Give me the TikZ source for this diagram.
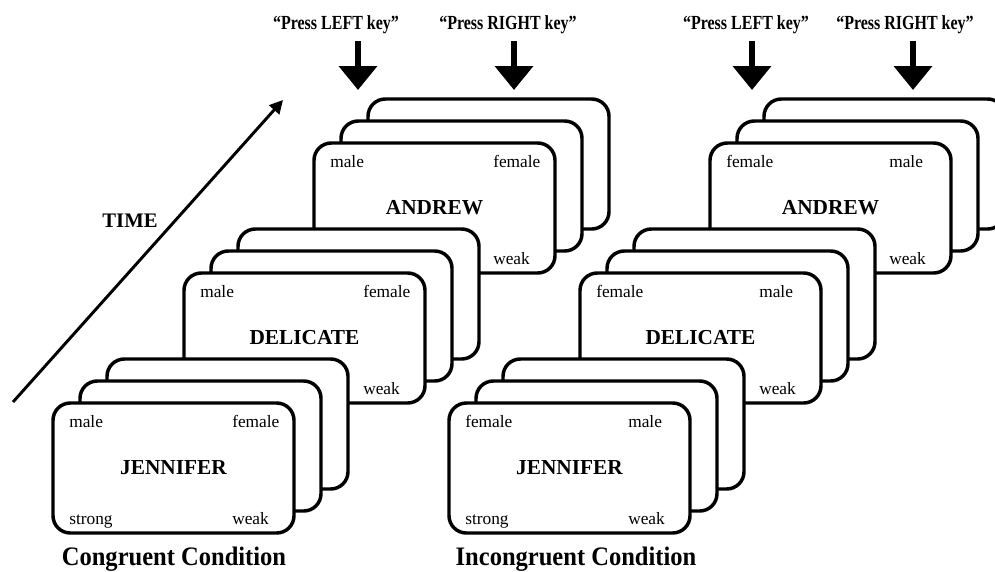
\documentclass[tikz,border=0pt]{standalone}
\usepackage{fontspec}
\setmainfont{Liberation Serif}
\usetikzlibrary{arrows.meta}

\begin{document}
\begin{tikzpicture}[x=0.75pt, y=-0.75pt,
  card/.style={draw=black, fill=white, line width=2.6pt, rounded corners=13pt,
    minimum width=180.75pt, minimum height=97.5pt, inner sep=0pt, outer sep=0pt},
  lbl/.style={font=\fontsize{13}{15}\selectfont, inner sep=0pt, anchor=base west},
  word/.style={font=\fontsize{16}{19}\selectfont\bfseries, inner sep=0pt},
  keytext/.style={font=\fontsize{15}{18}\selectfont\bfseries\addfontfeature{FakeStretch=0.8},
    inner sep=0pt, anchor=base},
  keyarrow/.style={line width=4.5pt, -{Triangle[width=28pt, length=18pt]}},
  timearrow/.style={line width=2.2pt, -{Triangle[width=10pt, length=10pt]}},
  caption/.style={font=\fontsize{20}{24}\selectfont\bfseries\addfontfeature{FakeStretch=0.92},
    inner sep=0pt, anchor=base}]
\useasboundingbox (0,0) rectangle (995,571);
\clip (0,0) rectangle (995,571);

\coordinate (time-start) at (13,402);
\coordinate (time-end) at (283,100);
\draw [timearrow] (time-start) -- (time-end);
\node [word, anchor=base, font=\fontsize{15.5}{18}\selectfont\bfseries] (time) at (130,227) {TIME};

\node [keytext] (cong-left-key) at (336,29) {“Press LEFT key”};
\node [keytext] (cong-right-key) at (508,29) {“Press RIGHT key”};
\node [keytext] (inc-left-key) at (746,29) {“Press LEFT key”};
\node [keytext] (inc-right-key) at (905,29) {“Press RIGHT key”};
\coordinate (cong-left-top) at (358,41);
\coordinate (cong-left-tip) at (358,90);
\coordinate (cong-right-top) at (514,41);
\coordinate (cong-right-tip) at (514,90);
\coordinate (inc-left-top) at (752,41);
\coordinate (inc-left-tip) at (752,90);
\coordinate (inc-right-top) at (913,41);
\coordinate (inc-right-tip) at (913,90);
\draw [keyarrow] (cong-left-top) -- (cong-left-tip);
\draw [keyarrow] (cong-right-top) -- (cong-right-tip);
\draw [keyarrow] (inc-left-top) -- (inc-left-tip);
\draw [keyarrow] (inc-right-top) -- (inc-right-tip);

\node [card] (cong-a-back) at (488.5,164) {};
\node [card] (cong-a-mid) at (461.5,186) {};
\node [card] (cong-a) at (434.5,208) {};
\node [lbl] (cong-a-tl) at ([shift={(16,24)}]cong-a.north west) {male};
\node [lbl] (cong-a-tr) at ([shift={(179,24)}]cong-a.north west) {female};
\node [lbl] (cong-a-br) at ([shift={(179,-9)}]cong-a.south west) {weak};
\node [word] (cong-a-word) at (cong-a.center) {ANDREW};

\node [card] (cong-d-back) at (358.5,294) {};
\node [card] (cong-d-mid) at (331.5,316) {};
\node [card] (cong-d) at (304.5,338) {};
\node [lbl] (cong-d-tl) at ([shift={(16,24)}]cong-d.north west) {male};
\node [lbl] (cong-d-tr) at ([shift={(179,24)}]cong-d.north west) {female};
\node [lbl] (cong-d-br) at ([shift={(179,-9)}]cong-d.south west) {weak};
\node [word] (cong-d-word) at (cong-d.center) {DELICATE};

\node [card] (cong-j-back) at (227.5,424) {};
\node [card] (cong-j-mid) at (200.5,446) {};
\node [card] (cong-j) at (173.5,468) {};
\node [lbl] (cong-j-tl) at ([shift={(16,24)}]cong-j.north west) {male};
\node [lbl] (cong-j-tr) at ([shift={(179,24)}]cong-j.north west) {female};
\node [lbl] (cong-j-bl) at ([shift={(16,-9)}]cong-j.south west) {strong};
\node [lbl] (cong-j-br) at ([shift={(179,-9)}]cong-j.south west) {weak};
\node [word] (cong-j-word) at (cong-j.center) {JENNIFER};

\node [card] (inc-a-back) at (884.5,164) {};
\node [card] (inc-a-mid) at (857.5,186) {};
\node [card] (inc-a) at (830.5,208) {};
\node [lbl] (inc-a-tl) at ([shift={(16,24)}]inc-a.north west) {female};
\node [lbl] (inc-a-tr) at ([shift={(179,24)}]inc-a.north west) {male};
\node [lbl] (inc-a-br) at ([shift={(179,-9)}]inc-a.south west) {weak};
\node [word] (inc-a-word) at (inc-a.center) {ANDREW};

\node [card] (inc-d-back) at (754.5,294) {};
\node [card] (inc-d-mid) at (727.5,316) {};
\node [card] (inc-d) at (700.5,338) {};
\node [lbl] (inc-d-tl) at ([shift={(16,24)}]inc-d.north west) {female};
\node [lbl] (inc-d-tr) at ([shift={(179,24)}]inc-d.north west) {male};
\node [lbl] (inc-d-br) at ([shift={(179,-9)}]inc-d.south west) {weak};
\node [word] (inc-d-word) at (inc-d.center) {DELICATE};

\node [card] (inc-j-back) at (623.5,424) {};
\node [card] (inc-j-mid) at (596.5,446) {};
\node [card] (inc-j) at (569.5,468) {};
\node [lbl] (inc-j-tl) at ([shift={(16,24)}]inc-j.north west) {female};
\node [lbl] (inc-j-tr) at ([shift={(179,24)}]inc-j.north west) {male};
\node [lbl] (inc-j-bl) at ([shift={(16,-9)}]inc-j.south west) {strong};
\node [lbl] (inc-j-br) at ([shift={(179,-9)}]inc-j.south west) {weak};
\node [word] (inc-j-word) at (inc-j.center) {JENNIFER};

\node [caption] (cong-caption) at (174,565) {Congruent Condition};
\node [caption] (inc-caption) at (576,565) {Incongruent Condition};
\end{tikzpicture}
\end{document}
